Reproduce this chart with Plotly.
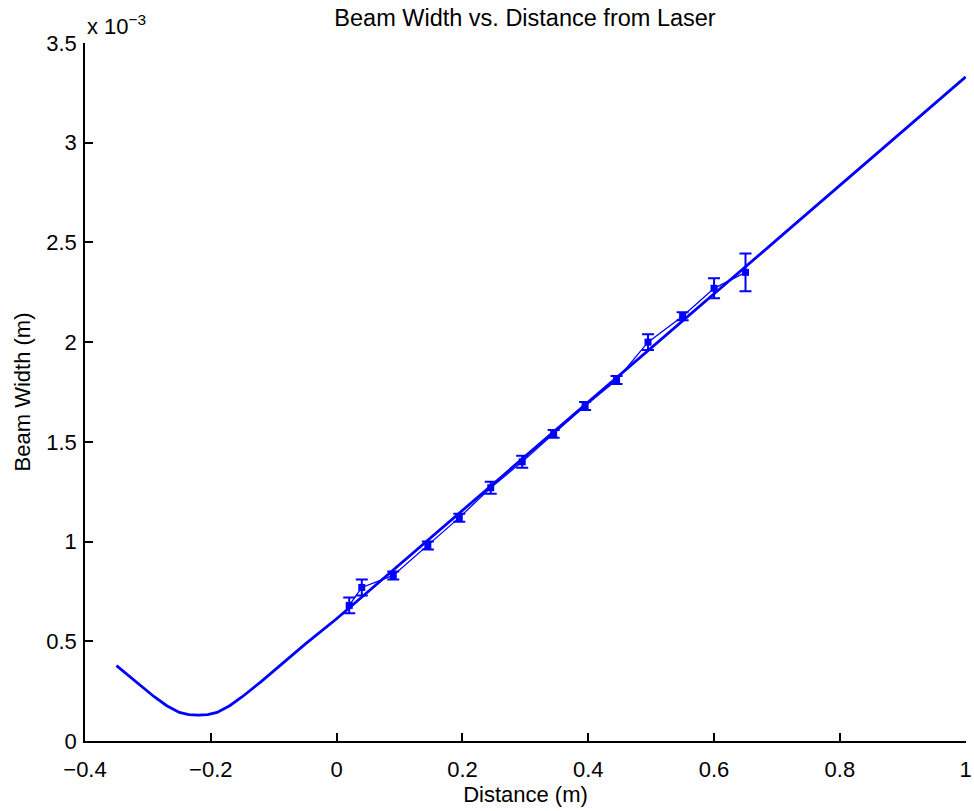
import plotly.graph_objects as go

# Fit curve, x in m, width in units of 1e-3 m
fit_x = [-0.35, -0.33, -0.31, -0.29, -0.27, -0.25, -0.235, -0.22, -0.205, -0.19,
         -0.17, -0.15, -0.12, -0.09, -0.05, 0.0, 0.1, 0.2, 0.3, 0.4, 0.5, 0.6,
         0.7, 0.8, 0.9, 1.0]
fit_y = [0.378, 0.325, 0.272, 0.222, 0.177, 0.143, 0.132, 0.130, 0.132, 0.143,
         0.177, 0.222, 0.298, 0.378, 0.486, 0.613, 0.884, 1.155, 1.427, 1.699,
         1.971, 2.242, 2.514, 2.786, 3.058, 3.330]

# Measured data with error bars
data_x = [0.02, 0.04, 0.09, 0.145, 0.195, 0.245, 0.295, 0.345, 0.395, 0.445,
          0.495, 0.55, 0.60, 0.65]
data_y = [0.68, 0.77, 0.83, 0.98, 1.12, 1.27, 1.40, 1.54, 1.68, 1.81,
          2.00, 2.13, 2.27, 2.35]
data_err = [0.04, 0.04, 0.02, 0.02, 0.02, 0.03, 0.03, 0.02, 0.02, 0.02,
            0.04, 0.02, 0.05, 0.095]

x_ticks = [-0.4, -0.2, 0, 0.2, 0.4, 0.6, 0.8, 1]
x_labels = ["\u22120.4", "\u22120.2", "0", "0.2", "0.4", "0.6", "0.8", "1"]
y_ticks = [0, 0.5, 1, 1.5, 2, 2.5, 3, 3.5]
y_labels = ["0", "0.5", "1", "1.5", "2", "2.5", "3", "3.5"]

blue = "rgb(0,0,255)"

fig = go.Figure()
fig.add_trace(go.Scatter(x=fit_x, y=fit_y, mode="lines",
                         line=dict(color=blue, width=2.8), hoverinfo="skip"))
fig.add_trace(go.Scatter(x=data_x, y=data_y, mode="lines+markers",
                         line=dict(color=blue, width=1.3),
                         marker=dict(color=blue, size=7, symbol="square"),
                         error_y=dict(type="data", array=data_err, color=blue,
                                      thickness=2, width=6)))

font = dict(family="Liberation Sans, Arial, sans-serif", color="black")
fig.update_layout(
    width=974, height=811,
    margin=dict(l=85, r=8, t=43, b=70, autoexpand=False),
    paper_bgcolor="white", plot_bgcolor="white",
    showlegend=False,
    title=dict(text="Beam Width vs. Distance from Laser", x=525 / 974, xanchor="center",
               y=1 - 18 / 811, yanchor="middle", font=dict(size=23.5, **font)),
    font=dict(size=22, **font),
    xaxis=dict(range=[-0.4, 1.0005], tickvals=x_ticks, ticktext=x_labels,
               showline=True, linecolor="black", linewidth=1.5,
               ticks="inside", ticklen=8, tickcolor="black", tickwidth=1.5,
               showgrid=False, zeroline=False, automargin=False,
               ticklabeloverflow="allow", ticklabelstandoff=8,
               tickfont=dict(size=22, **font),
               title=dict(text="Distance (m)", font=dict(size=22, **font), standoff=2)),
    yaxis=dict(range=[0, 3.5], tickvals=y_ticks, ticktext=y_labels,
               showline=True, linecolor="black", linewidth=1.5,
               ticks="inside", ticklen=8, tickcolor="black", tickwidth=1.5,
               showgrid=False, zeroline=False, automargin=False,
               ticklabelstandoff=2,
               tickfont=dict(size=22, **font),
               title=dict(text="Beam Width (m)", font=dict(size=22, **font), standoff=10)),
    annotations=[dict(text="x 10<sup>\u22123</sup>", xref="paper", yref="paper",
                      x=0, y=1.0, xanchor="left", yanchor="bottom",
                      showarrow=False, font=dict(size=22, **font), yshift=2)],
)

fig.write_html("out.html", config={"displayModeBar": False},
               post_script="document.body.style.margin='0';")
